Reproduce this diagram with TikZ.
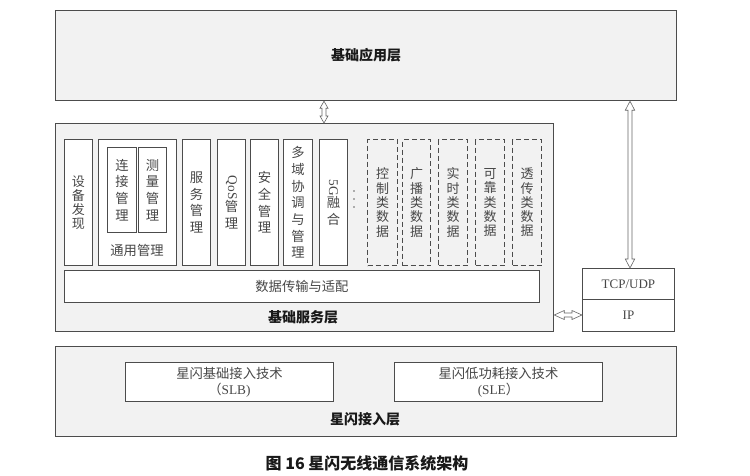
\documentclass[tikz,border=0pt]{standalone}
\usepackage{fontspec}
\setmainfont{Noto Sans CJK SC}
\newfontfamily\lat{Liberation Serif}
\usetikzlibrary{calc}
\begin{document}
\begin{tikzpicture}[x=1pt,y=-1pt,
  layer/.style={draw=black!70, line width=1.2pt, fill=black!5, anchor=north west, inner sep=0},
  ibox/.style={draw=black!70, line width=0.9pt, fill=white, anchor=north west, inner sep=0, text=black!72, font=\fontsize{13.3}{16.7}\selectfont, align=center},
  dbox/.style={draw=black!70, line width=1.1pt, dash pattern=on 5pt off 3pt, anchor=north west, inner sep=0, text=black!72, font=\fontsize{13}{14.3}\selectfont, align=center},
  tight/.style={font=\fontsize{13}{14}\selectfont},
  txt/.style={text=black!72, font=\fontsize{13.3}{16}\selectfont, align=center, inner sep=0},
  lbl/.style={font=\bfseries\fontsize{14}{15}\selectfont, text=black!90, inner sep=0},
  harrow/.style={draw=black!60, fill=white, line width=0.6pt, line join=miter}
]
\useasboundingbox (0,0) rectangle (750,475);
% layers
\node[layer, minimum width=621pt, minimum height=90pt] (app) at (55,10) {};
\node[lbl] (applbl) at (app.center) {基础应用层};
\node[layer, minimum width=498pt, minimum height=208pt] (svc) at (55,123) {};
\node[lbl] (svclbl) at (303,317) {基础服务层};
\node[layer, minimum width=621pt, minimum height=90pt] (acc) at (55,346) {};
\node[lbl] (acclbl) at (365,419) {星闪接入层};
% service columns
\node[ibox, tight, minimum width=28pt, minimum height=126pt] (dev) at (64,139) {设\\备\\发\\现};
\node[ibox, minimum width=78pt, minimum height=126pt] (gen) at (98,139) {};
\node[ibox, minimum width=29pt, minimum height=85pt] (conn) at (107,147) {连\\接\\管\\理};
\node[ibox, minimum width=28pt, minimum height=85pt] (meas) at (138,147) {测\\量\\管\\理};
\node[txt] (genlbl) at (137,250) {通用管理};
\node[ibox, minimum width=28pt, minimum height=126pt] (srv) at (182,139) {服\\务\\管\\理};
\node[ibox, minimum width=28pt, minimum height=126pt] (qos) at (217,139) {\rotatebox{-90}{\lat QoS}\\管\\理};
\node[ibox, minimum width=28pt, minimum height=126pt] (sec) at (250,139) {安\\全\\管\\理};
\node[ibox, minimum width=29pt, minimum height=126pt] (multi) at (283,139) {多\\域\\协\\调\\与\\管\\理};
\node[ibox, minimum width=28pt, minimum height=126pt] (g5) at (319,139) {\rotatebox{-90}{\lat 5G}\\融\\合};
\fill[black!60] (354,191) circle (0.9pt) (354,199) circle (0.9pt) (354,207) circle (0.9pt);
% dashed data types
\node[dbox, minimum width=30pt, minimum height=126pt] (ctl) at (367,139) {控\\制\\类\\数\\据};
\node[dbox, minimum width=28pt, minimum height=126pt] (bc) at (402,139) {广\\播\\类\\数\\据};
\node[dbox, minimum width=29pt, minimum height=126pt] (rt) at (438,139) {实\\时\\类\\数\\据};
\node[dbox, minimum width=29pt, minimum height=126pt] (rel) at (475,139) {可\\靠\\类\\数\\据};
\node[dbox, minimum width=29pt, minimum height=126pt] (tr) at (512,139) {透\\传\\类\\数\\据};
% data transport
\node[ibox, minimum width=475pt, minimum height=32pt] (data) at (64,270) {数据传输与适配};
% TCP/IP
\node[ibox, minimum width=92pt, minimum height=31pt, font=\lat\fontsize{13}{15}\selectfont] (tcp) at (582,268) {TCP/UDP};
\node[ibox, minimum width=92pt, minimum height=32pt, font=\lat\fontsize{13}{15}\selectfont] (ip) at (582,299) {IP};
% access techs
\node[ibox, minimum width=208pt, minimum height=39pt, font=\fontsize{13.3}{16}\selectfont] (slb) at (125,362) {星闪基础接入技术\\（{\lat SLB)}};
\node[ibox, minimum width=208pt, minimum height=39pt, font=\fontsize{13.3}{16}\selectfont] (sle) at (394,362) {星闪低功耗接入技术\\{\lat (SLE}）};
% arrows (hollow double-headed)
\coordinate (ax) at (324,0);
\coordinate (rx) at (630,0);
\coordinate (hy) at (0,315);
\draw[harrow] let \p1=(app.south -| ax), \p2=(svc.north -| ax) in
  (\p1) -- (\x1+4pt,\y1-7pt) -- (\x1+2pt,\y1-7pt) -- (\x1+2pt,\y2+7pt) -- (\x1+4pt,\y2+7pt)
  -- (\p2) -- (\x1-4pt,\y2+7pt) -- (\x1-2pt,\y2+7pt) -- (\x1-2pt,\y1-7pt) -- (\x1-4pt,\y1-7pt) -- cycle;
\draw[harrow] let \p1=(app.south -| rx), \p2=(tcp.north -| rx) in
  (\p1) -- (\x1+4.7pt,\y1-9pt) -- (\x1+2pt,\y1-9pt) -- (\x1+2pt,\y2+9pt) -- (\x1+4.7pt,\y2+9pt)
  -- (\p2) -- (\x1-4.7pt,\y2+9pt) -- (\x1-2pt,\y2+9pt) -- (\x1-2pt,\y1-9pt) -- (\x1-4.7pt,\y1-9pt) -- cycle;
\draw[harrow] let \p1=(svc.east |- hy), \p2=(ip.west |- hy) in
  (\p1) -- (\x1+10pt,\y1+4.5pt) -- (\x1+10pt,\y1+2pt) -- (\x2-10pt,\y1+2pt) -- (\x2-10pt,\y1+4.5pt)
  -- (\p2) -- (\x2-10pt,\y1-4.5pt) -- (\x2-10pt,\y1-2pt) -- (\x1+10pt,\y1-2pt) -- (\x1+10pt,\y1-4.5pt) -- cycle;
% caption
\node[font=\bfseries\fontsize{16}{18}\selectfont, text=black!90] (cap) at (367,463) {图 16 星闪无线通信系统架构};
\end{tikzpicture}
\end{document}
